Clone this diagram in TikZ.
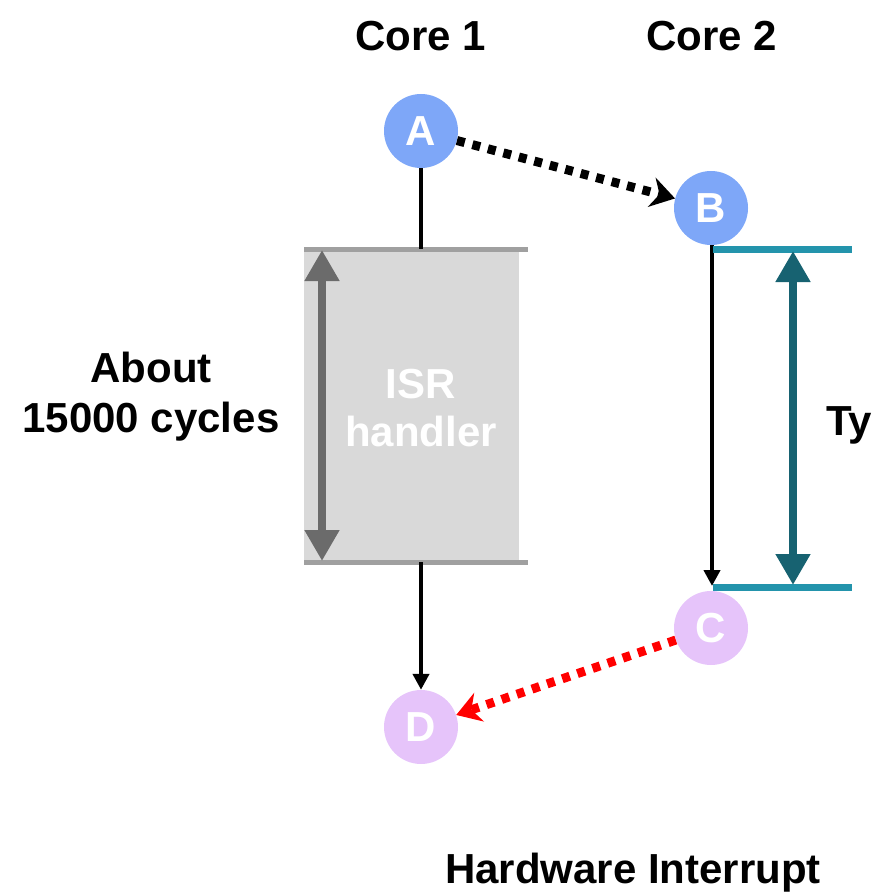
\documentclass[tikz,border=0pt]{standalone}
\usepackage{fontspec}
\setmainfont{Liberation Sans}
\usetikzlibrary{arrows.meta}
\definecolor{cblue}{RGB}{126,167,248}
\definecolor{cpurp}{RGB}{230,196,250}
\definecolor{boxgray}{RGB}{217,217,217}
\definecolor{linegray}{RGB}{160,160,160}
\definecolor{arrgray}{RGB}{107,107,107}
\definecolor{tealline}{RGB}{35,148,172}
\definecolor{tealarr}{RGB}{23,98,113}
\begin{document}
\begin{tikzpicture}[x=1pt,y=-1pt,
  lbl/.style={font=\fontsize{42}{50}\selectfont\bfseries, text=black, align=center, inner sep=0pt},
  evt/.style={circle, minimum size=74pt, inner sep=0pt, text=white, font=\fontsize{42}{44}\selectfont\bfseries},
  flow/.style={line width=4pt, draw=black},
  dotarrow/.style={line width=9pt, dash pattern=on 8pt off 8pt, -{Stealth[length=24pt,width=30pt,inset=8pt]}},
  bigdbl/.style={line width=8pt, {Triangle[length=31pt,width=33pt]}-{Triangle[length=31pt,width=33pt]}}]
\useasboundingbox (0,0) rectangle (877,893);
% labels
\node[lbl] (core1) at (421,36) {Core 1};
\node[lbl] (core2) at (712,36) {Core 2};
\node[lbl] (about) at (151,397) {About\\15000 cycles};
\node[lbl] (ty) at (849,425) {Ty};
\node[lbl, anchor=base] (hw) at (633,883) {Hardware Interrupt};
% ISR box
\node[draw=none, fill=boxgray, minimum width=215pt, minimum height=313pt, inner sep=0pt, anchor=north west] (isr) at (304,249) {};
\node[text=white, font=\fontsize{42}{48}\selectfont\bfseries, align=center] (isrtxt) at (421,408) {ISR\\handler};
\coordinate (gtl) at (304,249);
\coordinate (gtr) at (528,249);
\coordinate (gbl) at (304,562);
\coordinate (gbr) at (528,562);
\draw[linegray, line width=5pt] (gtl) -- (gtr);
\draw[linegray, line width=5pt] (gbl) -- (gbr);
\coordinate (gat) at (322,250);
\coordinate (gab) at (322,561);
\draw[bigdbl, arrgray] (gat) -- (gab);
% events
\node[evt, fill=cblue] (A) at (421,131) {A};
\node[evt, fill=cblue] (B) at (711,208) {B};
\node[evt, fill=cpurp] (C) at (711,628) {C};
\node[evt, fill=cpurp] (D) at (421,727) {D};
% core 1 flow
\coordinate (gtop) at (421,249);
\coordinate (gbot) at (421,562);
\draw[flow] (A.south) -- (gtop);
\draw[flow, -{Triangle[length=16pt,width=16pt]}] (gbot) -- (D.north);
% core 2 flow
\coordinate (cend) at (712,586);
\draw[flow, -{Triangle[length=16pt,width=16pt]}] (B.south) ++(1,0) -- (cend);
% teal bracket
\coordinate (ttl) at (713,249);
\coordinate (ttr) at (852,249);
\coordinate (tbl) at (713,587);
\coordinate (tbr) at (852,587);
\draw[tealline, line width=7pt] (ttl) -- (ttr);
\draw[tealline, line width=7pt] (tbl) -- (tbr);
\coordinate (tat) at (793,251);
\coordinate (tab) at (793,585);
\draw[bigdbl, tealarr] (tat) -- (tab);
% dotted messages
\draw[dotarrow, black] (A) -- (B);
\draw[dotarrow, red] (C) -- (D);
\end{tikzpicture}
\end{document}
